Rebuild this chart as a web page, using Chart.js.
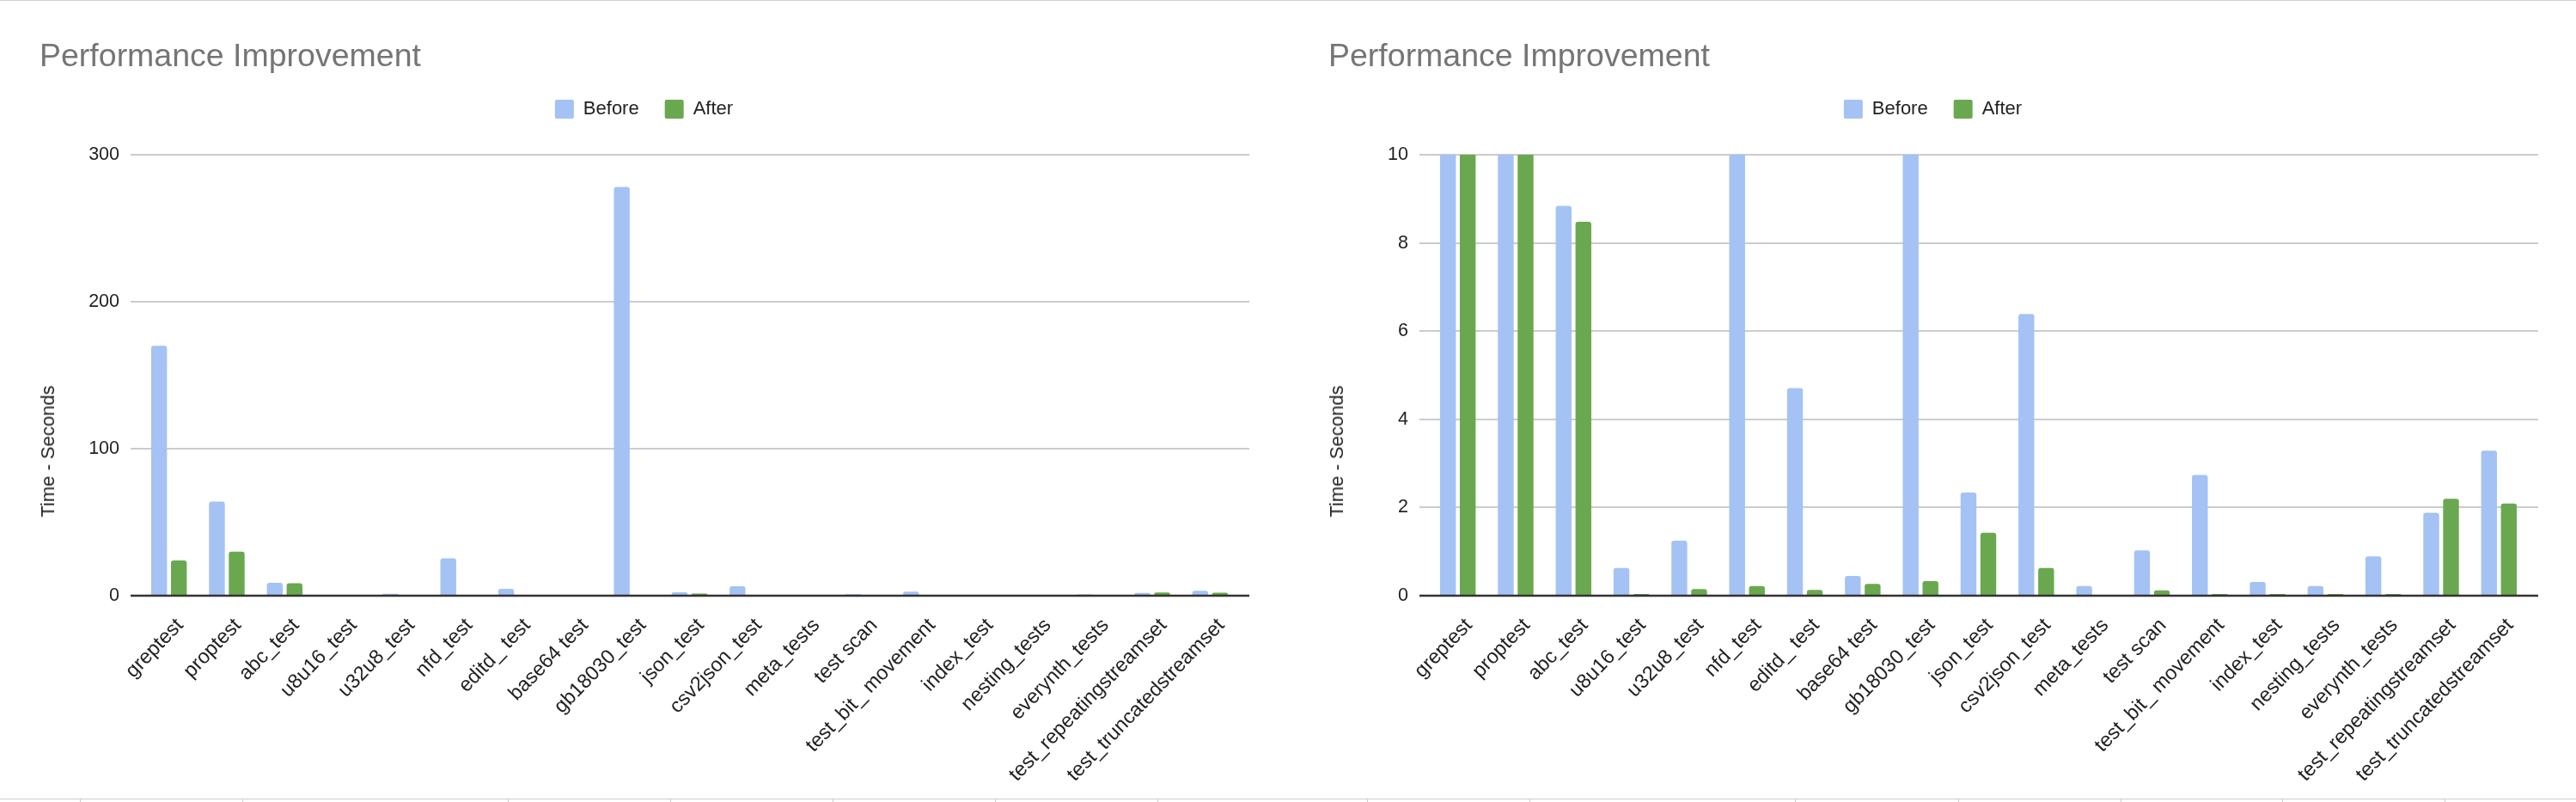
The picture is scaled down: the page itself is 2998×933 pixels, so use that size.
<!DOCTYPE html>
<html>
<head>
<meta charset="utf-8">
<script src="https://cdn.jsdelivr.net/npm/chart.js@4.4.1/dist/chart.umd.min.js"></script>
<style>
  body { margin: 0; width: 2998px; height: 933px; background: #fff; position: relative; overflow: hidden;
         font-family: "Liberation Sans", Arial, sans-serif; }
  .topline { position: absolute; left: 0; top: 0; width: 2998px; height: 1px; background: #d0d0d0; }
  .bottomline { position: absolute; left: 0; top: 929px; width: 2998px; height: 1px; background: #cccccc; }
  .cellmark { position: absolute; top: 930px; width: 1px; height: 3px; background: #cccccc; }
  .panel { position: absolute; top: 1px; width: 1499px; height: 927px; }
  .panel canvas { position: absolute; left: 0; top: 0; }
  .title { position: absolute; left: 46px; top: 44px; font-size: 37.5px; line-height: 38px; color: #757575; white-space: nowrap; }
  .ytitle { position: absolute; left: 56px; top: 524px; font-size: 22px; color: #222; white-space: nowrap;
            transform: translate(-50%, -50%) rotate(-90deg); }
</style>
</head>
<body>
<div class="topline"></div>
<div class="panel" style="left:0px">
  <canvas id="chartAll"></canvas>
  <div class="title">Performance Improvement</div>
  <div class="ytitle">Time - Seconds</div>
</div>
<div class="panel" style="left:1500px">
  <canvas id="chartZoom"></canvas>
  <div class="title">Performance Improvement</div>
  <div class="ytitle">Time - Seconds</div>
</div>
<div class="bottomline"></div>

<script>
// Data
const tests = ['greptest', 'proptest', 'abc_test', 'u8u16_test', 'u32u8_test', 'nfd_test', 'editd_ test',
    'base64 test', 'gb18030_test', 'json_test', 'csv2json_test', 'meta_tests', 'test scan',
    'test_bit_ movement', 'index_test', 'nesting_tests', 'everynth_tests',
    'test_repeatingstreamset', 'test_truncatedstreamset'];
const before = [170, 64, 8.84, 0.63, 1.25, 25.5, 4.71, 0.45, 278, 2.34, 6.39, 0.22, 1.03, 2.74, 0.31, 0.22, 0.89, 1.88, 3.29];
const after = [24, 30, 8.48, 0.04, 0.15, 0.22, 0.13, 0.27, 0.33, 1.43, 0.63, 0, 0.12, 0.04, 0.04, 0.04, 0.04, 2.2, 2.09];
const fullTicks = [0, 100, 200, 300];
const zoomTicks = [0, 2, 4, 6, 8, 10];

// spreadsheet cell borders under the charts
[93, 282, 591, 780, 969, 1158, 1347, 1591, 1780, 2089, 2279, 2468, 2656, 2845].forEach(x => {
    const d = document.createElement('div');
    d.className = 'cellmark';
    d.style.left = x + 'px';
    document.body.appendChild(d);
});

Chart.defaults.font.family = '"Liberation Sans", Arial, sans-serif';
Chart.defaults.color = '#222222';

// extra room between legend and plot
const legendGap = {
    id: 'legendGap',
    beforeInit(chart) {
        const fitLegend = chart.legend.fit;
        chart.legend.fit = function () {
            fitLegend.bind(chart.legend)();
            this.height += 32;
        };
    }
};

// gridlines run a bit past the bars on both sides, baseline on top of bars
const sheetGrid = {
    id: 'sheetGrid',
    beforeDatasetsDraw(chart) {
        const {ctx, chartArea, scales: {y}} = chart;
        ctx.save();
        ctx.strokeStyle = '#cccccc';
        ctx.lineWidth = 2;
        y.ticks.forEach(t => {
            if (t.value === 0) return;
            const py = Math.round(y.getPixelForValue(t.value));
            ctx.beginPath();
            ctx.moveTo(chartArea.left - 11, py);
            ctx.lineTo(chartArea.right + 12, py);
            ctx.stroke();
        });
        ctx.restore();
    },
    afterDatasetsDraw(chart) {
        const {ctx, chartArea, scales: {y}} = chart;
        const py = Math.round(y.getPixelForValue(0));
        ctx.save();
        ctx.strokeStyle = '#333333';
        ctx.lineWidth = 2.5;
        ctx.beginPath();
        ctx.moveTo(chartArea.left - 11, py);
        ctx.lineTo(chartArea.right + 12, py);
        ctx.stroke();
        ctx.restore();
    }
};

function makeChart(id, tickValues) {
    const ctx = document.getElementById(id).getContext('2d');
    return new Chart(ctx, {
        type: 'bar',
        data: {
            labels: tests,
            datasets: [{
                label: 'Before',
                data: before,
                backgroundColor: '#a4c2f4',
                borderWidth: 0,
                borderRadius: 3
            }, {
                label: 'After',
                data: after,
                backgroundColor: '#6aa84f',
                borderWidth: 0,
                borderRadius: 3
            }]
        },
        options: {
            responsive: true,
            maintainAspectRatio: false,
            animation: false,
            categoryPercentage: 0.684,
            barPercentage: 0.8,
            layout: {
                padding: {top: 85, left: 57, right: 57, bottom: 0}
            },
            plugins: {
                legend: {
                    position: 'top',
                    labels: {
                        boxWidth: 22,
                        boxHeight: 22,
                        padding: 30,
                        useBorderRadius: true,
                        borderRadius: 2,
                        font: {size: 22},
                        color: '#222222'
                    }
                },
                tooltip: {enabled: false}
            },
            scales: {
                x: {
                    grid: {display: false, drawTicks: false},
                    border: {display: false},
                    ticks: {
                        autoSkip: false,
                        minRotation: 46,
                        maxRotation: 46,
                        padding: 21,
                        labelOffset: 13,
                        font: {size: 23.5},
                        color: '#222222'
                    },
                    afterFit(scale) { scale.height = 235; }
                },
                y: {
                    min: tickValues[0],
                    max: tickValues[tickValues.length - 1],
                    grid: {display: false, drawTicks: false},
                    border: {display: false},
                    ticks: {
                        padding: 24,
                        font: {size: 21.5},
                        color: '#222222'
                    },
                    afterBuildTicks(scale) {
                        scale.ticks = tickValues.map(v => ({value: v}));
                    },
                    afterFit(scale) { scale.width = 106; }
                }
            }
        },
        plugins: [legendGap, sheetGrid]
    });
}

makeChart('chartAll', fullTicks);
makeChart('chartZoom', zoomTicks);
</script>
</body>
</html>
